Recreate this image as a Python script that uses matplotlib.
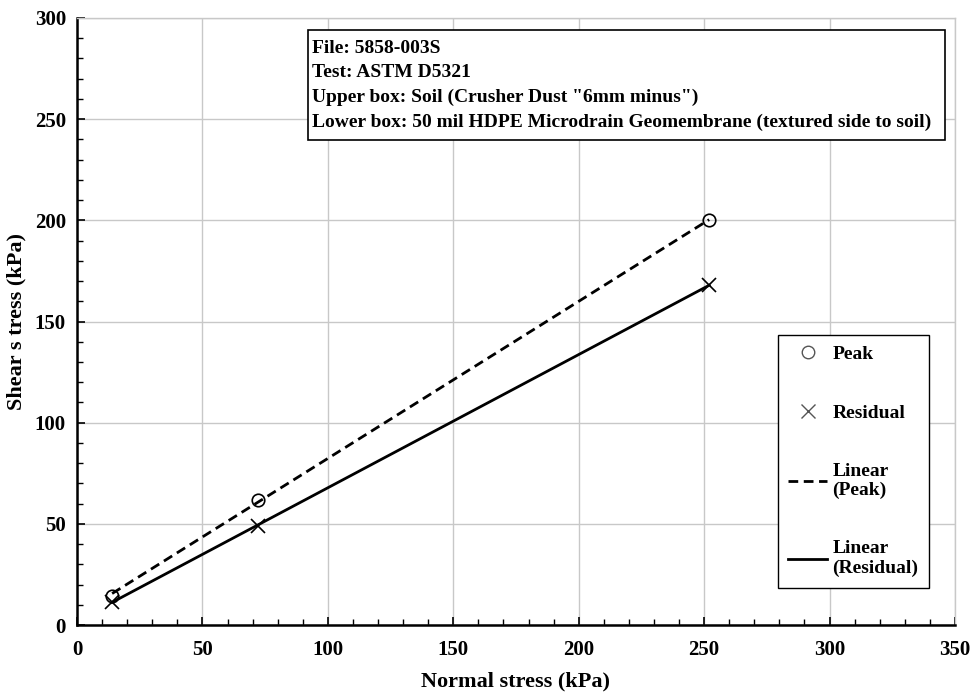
import numpy as np
import matplotlib.pyplot as plt
from matplotlib.lines import Line2D
from matplotlib.patches import Rectangle
from matplotlib.ticker import MultipleLocator

plt.rcParams['font.family'] = ['Liberation Serif', 'DejaVu Serif']
plt.rcParams['font.weight'] = 'bold'

# data
normal_stress = [14, 72, 252]
peak = [14.5, 62, 200]
residual = [11.5, 49, 168]

info_lines = ['File: 5858-003S',
              'Test: ASTM D5321',
              'Upper box: Soil (Crusher Dust "6mm minus")',
              'Lower box: 50 mil HDPE Microdrain Geomembrane (textured side to soil)']

fig = plt.figure(figsize=(9.71, 6.92), dpi=100)
ax = fig.add_axes([0.0793, 0.0968, 0.9042, 0.8772])

# linear trendlines
xs = np.array([min(normal_stress), max(normal_stress)])
pp = np.polyfit(normal_stress, peak, 1)
pr = np.polyfit(normal_stress, residual, 1)
ax.plot(xs, np.polyval(pp, xs), color='black', linestyle=(0, (3.5, 2)), linewidth=2, zorder=3)
ax.plot(xs, np.polyval(pr, xs), color='black', linestyle='-', linewidth=2, zorder=3)

ax.plot(normal_stress, peak, linestyle='none', marker='o', markersize=9,
        markerfacecolor='none', markeredgecolor='black', markeredgewidth=1.2, zorder=4)
ax.plot(normal_stress, residual, linestyle='none', marker='x', markersize=10,
        color='black', markeredgewidth=1.2, zorder=4)

ax.set_xlim(0, 350)
ax.set_ylim(0, 300)
ax.xaxis.set_major_locator(MultipleLocator(50))
ax.yaxis.set_major_locator(MultipleLocator(50))
ax.xaxis.set_minor_locator(MultipleLocator(10))
ax.yaxis.set_minor_locator(MultipleLocator(10))
ax.tick_params(which='major', direction='in', length=6, width=1.2, labelsize=15)
ax.tick_params(axis='x', which='major', pad=11)
ax.tick_params(axis='y', which='major', pad=8)
ax.tick_params(which='minor', direction='in', length=4, width=1)
ax.grid(True, which='major', color='#c8c8c8', linewidth=1)
ax.set_axisbelow(True)
for s in ['left', 'bottom']:
    ax.spines[s].set_linewidth(1.8)
for s in ['top', 'right']:
    ax.spines[s].set_color('#c8c8c8')
    ax.spines[s].set_linewidth(1)

ax.set_xlabel('Normal stress (kPa)', fontsize=16, fontweight='bold', labelpad=8)
ax.set_ylabel('Shear s tress (kPa)', fontsize=16, fontweight='bold', labelpad=6)

# info box
ax.add_patch(Rectangle((0.263, 0.799), 0.7256, 0.181, transform=ax.transAxes,
                       facecolor='white', edgecolor='black', linewidth=1.2, zorder=5))
ax.text(0.268, 0.964, '\n'.join(info_lines), transform=ax.transAxes, va='top', ha='left',
        fontsize=14, fontweight='bold', linespacing=1.58, zorder=6)

# legend
handles = [Line2D([], [], linestyle='none', marker='o', markersize=9, markerfacecolor='none',
                  markeredgecolor='#555555', markeredgewidth=1),
           Line2D([], [], linestyle='none', marker='x', markersize=10, color='#555555',
                  markeredgewidth=1),
           Line2D([], [], color='black', linestyle=(0, (3.5, 2)), linewidth=2),
           Line2D([], [], color='black', linestyle='-', linewidth=2)]
labels = ['Peak', 'Residual', 'Linear\n(Peak)', 'Linear\n(Residual)']
leg = ax.legend(handles, labels, loc='lower left', bbox_to_anchor=(0.798, 0.061),
                fancybox=False, framealpha=1, edgecolor='black',
                prop={'weight': 'bold', 'size': 14}, labelspacing=2.1,
                handlelength=2.0, handletextpad=0.26, borderpad=0.55, borderaxespad=0)
leg.get_frame().set_linewidth(1)

plt.savefig('out.png', dpi=100)
